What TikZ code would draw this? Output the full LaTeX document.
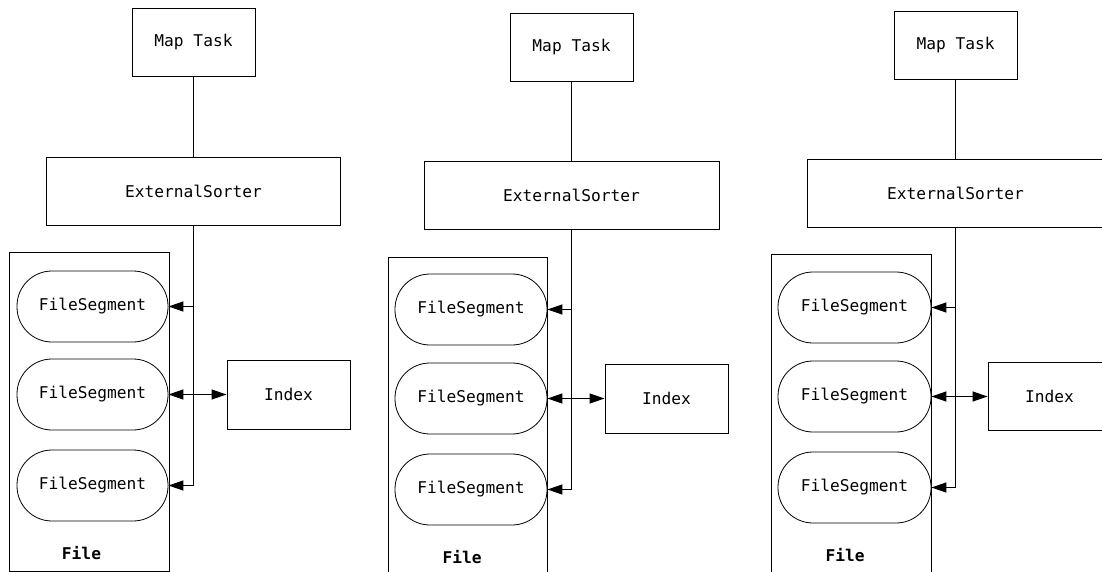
\documentclass[tikz,border=0pt]{standalone}
\usepackage{fontspec}
\newfontfamily\sortmono{DejaVu Sans Mono}
\usetikzlibrary{arrows.meta}

\tikzset{
  lbl/.style={font=\sortmono\fontsize{16.2}{18}\selectfont},
  plainbox/.style={draw, line width=0.9pt, inner sep=0pt, lbl},
  taskbox/.style={plainbox, minimum width=123pt, minimum height=68pt},
  sorterbox/.style={plainbox, minimum height=68pt},
  filebox/.style={draw, line width=0.9pt, inner sep=0pt},
  segbox/.style={plainbox, line width=0.8pt, rounded corners=35pt, minimum height=71pt},
  filelbl/.style={font=\sortmono\bfseries\fontsize{16.2}{18}\selectfont, inner sep=0pt},
  link/.style={line width=1.2pt},
  tip/.style={link, -{Triangle[length=15pt,width=10pt]}},
}

\begin{document}
\begin{tikzpicture}[x=1pt, y=-1pt]
  \useasboundingbox (0,0) rectangle (1102,572);
  \fill[white] (0,0) rectangle (1102,572);
  \clip (0,0) rectangle (1102,572);

  % ---------- first pipeline ----------
  \node[filebox, minimum width=160pt, minimum height=319pt] (a-file) at (89,411.5) {};
  \node[taskbox] (a-map) at (193.5,42.5) {Map Task};
  \node[sorterbox, minimum width=294pt] (a-es) at (193.5,191) {ExternalSorter};
  \node[segbox, minimum width=151pt] (a-fs1) at (92.5,306.5) {FileSegment};
  \node[segbox, minimum width=151pt] (a-fs2) at (92.5,394.5) {FileSegment};
  \node[segbox, minimum width=151pt] (a-fs3) at (92.5,485.5) {FileSegment};
  \node[taskbox, minimum height=69pt] (a-idx) at (288.5,394.5) {Index};
  \node[filelbl] (a-lbl) at (81.5,553) {File};

  \draw[link] (a-map.south) -- (a-es.north);
  \draw[tip] (a-es.south) |- (a-fs3.east);
  \draw[tip] (a-es.south |- a-fs1.east) -- (a-fs1.east);
  \draw[tip] (a-es.south |- a-fs2.east) -- (a-fs2.east);
  \draw[tip] (a-es.south |- a-fs2.east) -- (a-idx.west);

  % ---------- second pipeline ----------
  \node[filebox, minimum width=159pt, minimum height=343pt] (b-file) at (467.5,428.5) {};
  \node[taskbox] (b-map) at (571.5,47) {Map Task};
  \node[sorterbox, minimum width=295pt] (b-es) at (571.5,195) {ExternalSorter};
  \node[segbox, minimum width=152pt] (b-fs1) at (471,309.5) {FileSegment};
  \node[segbox, minimum width=152pt] (b-fs2) at (471,398.5) {FileSegment};
  \node[segbox, minimum width=152pt] (b-fs3) at (471,489.5) {FileSegment};
  \node[taskbox, minimum height=69pt] (b-idx) at (666.5,398.5) {Index};
  \node[filelbl] (b-lbl) at (462,557) {File};

  \draw[link] (b-map.south) -- (b-es.north);
  \draw[tip] (b-es.south) |- (b-fs3.east);
  \draw[tip] (b-es.south |- b-fs1.east) -- (b-fs1.east);
  \draw[tip] (b-es.south |- b-fs2.east) -- (b-fs2.east);
  \draw[tip] (b-es.south |- b-fs2.east) -- (b-idx.west);

  % ---------- third pipeline ----------
  \node[filebox, minimum width=160pt, minimum height=346pt] (c-file) at (851,427) {};
  \node[taskbox] (c-map) at (955.5,45) {Map Task};
  \node[sorterbox, minimum width=297pt] (c-es) at (955.5,193) {ExternalSorter};
  \node[segbox, minimum width=153pt] (c-fs1) at (854.5,307.5) {FileSegment};
  \node[segbox, minimum width=153pt] (c-fs2) at (854.5,396.5) {FileSegment};
  \node[segbox, minimum width=153pt] (c-fs3) at (854.5,487.5) {FileSegment};
  \node[taskbox] (c-idx) at (1049.5,396.5) {Index};
  \node[filelbl] (c-lbl) at (845,555) {File};

  \draw[link] (c-map.south) -- (c-es.north);
  \draw[tip] (c-es.south) |- (c-fs3.east);
  \draw[tip] (c-es.south |- c-fs1.east) -- (c-fs1.east);
  \draw[tip] (c-es.south |- c-fs2.east) -- (c-fs2.east);
  \draw[tip] (c-es.south |- c-fs2.east) -- (c-idx.west);
\end{tikzpicture}
\end{document}
